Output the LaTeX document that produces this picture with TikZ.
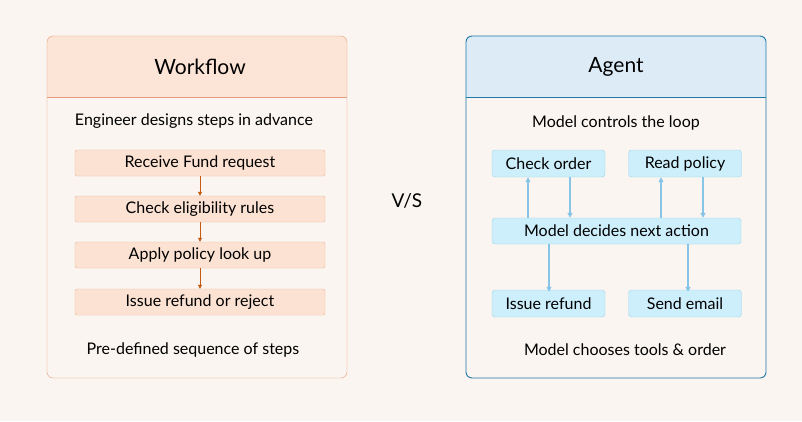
\documentclass[tikz,border=0pt]{standalone}
\usepackage{fontspec}
\setmainfont{Lato}
\usetikzlibrary{arrows.meta, positioning}
\definecolor{bgcol}{HTML}{FAF5F0}
\definecolor{peach}{HTML}{FCE4D6}
\definecolor{peachline}{HTML}{E39C78}
\definecolor{stepfill}{HTML}{FCE2D2}
\definecolor{stepline}{HTML}{F0B898}
\definecolor{rustarrow}{HTML}{C55A11}
\definecolor{skyhead}{HTML}{DDEBF7}
\definecolor{agentline}{HTML}{1F78A8}
\definecolor{toolfill}{HTML}{CDEEFB}
\definecolor{toolline}{HTML}{9ED6EE}
\definecolor{toolarrow}{HTML}{86C5E8}
\begin{document}
\begin{tikzpicture}[x=1pt,y=-1pt,font=\fontsize{16}{18}\selectfont,
  step box/.style={draw=stepline,fill=stepfill,rounded corners=2pt,minimum width=250pt,minimum height=26pt},
  tool box/.style={draw=toolline,fill=toolfill,rounded corners=3pt,minimum width=113pt,minimum height=27pt},
  step arrow/.style={-{Triangle[length=4pt,width=4pt]},draw=rustarrow,thick},
  tool arrow/.style={-{Triangle[length=5pt,width=5pt]},draw=toolarrow,line width=1.3pt}]
  \fill[bgcol] (0,0) rectangle (802,421);
  % workflow panel
  \begin{scope}
    \clip[rounded corners=6pt] (47,36) rectangle (347,378);
    \fill[peach] (47,36) rectangle (347,97);
  \end{scope}
  \draw[peachline] (47,97) -- (347,97);
  \draw[peachline,rounded corners=6pt] (47,36) rectangle (347,378);
  \node[font=\fontsize{21}{23}\selectfont] (wtitle) at (200,67) {Workflow};
  \node (wtop) at (194,121) {Engineer designs steps in advance};
  \node[step box] (s1) at (200,163) {Receive Fund request};
  \node[step box] (s2) at (200,209) {Check eligibility rules};
  \node[step box] (s3) at (200,255) {Apply policy look up};
  \node[step box] (s4) at (200,302) {Issue refund or reject};
  \node (wbot) at (193,350) {Pre-defined sequence of steps};
  \foreach \a/\b in {s1/s2,s2/s3,s3/s4}
    \draw[step arrow] (\a) -- (\b);
  % versus
  \node[font=\fontsize{19}{21}\selectfont] (vs) at (407,201) {V/S};
  % agent panel
  \begin{scope}
    \clip[rounded corners=6pt] (466,36) rectangle (766,378);
    \fill[skyhead] (466,36) rectangle (766,97);
  \end{scope}
  \draw[agentline,line width=0.9pt] (466,97) -- (766,97);
  \draw[agentline,line width=0.9pt,rounded corners=6pt] (466,36) rectangle (766,378);
  \node[font=\fontsize{21}{23}\selectfont] (atitle) at (616,67) {Agent};
  \node (atop) at (616,123) {Model controls the loop};
  \node[tool box] (order) at (548.5,163.5) {Check order};
  \node[tool box] (policy) at (685,163.5) {Read policy};
  \node[tool box,minimum width=249pt,minimum height=26pt] (model) at (616.5,231) {Model decides next action};
  \node[tool box] (refund) at (548.5,303.5) {Issue refund};
  \node[tool box] (email) at (685,303.5) {Send email};
  \node (abot) at (625,350) {Model chooses tools \& order};
  \draw[tool arrow] (model.north -| 528,0) -- (order.south -| 528,0);
  \draw[tool arrow] (order.south -| 570,0) -- (model.north -| 570,0);
  \draw[tool arrow] (model.north -| 661,0) -- (policy.south -| 661,0);
  \draw[tool arrow] (policy.south -| 703,0) -- (model.north -| 703,0);
  \draw[tool arrow] (model.south -| 549,0) -- ([yshift=-2pt]refund.north -| 549,0);
  \draw[tool arrow] (model.south -| 688,0) -- ([yshift=-2pt]email.north -| 688,0);
\end{tikzpicture}
\end{document}
